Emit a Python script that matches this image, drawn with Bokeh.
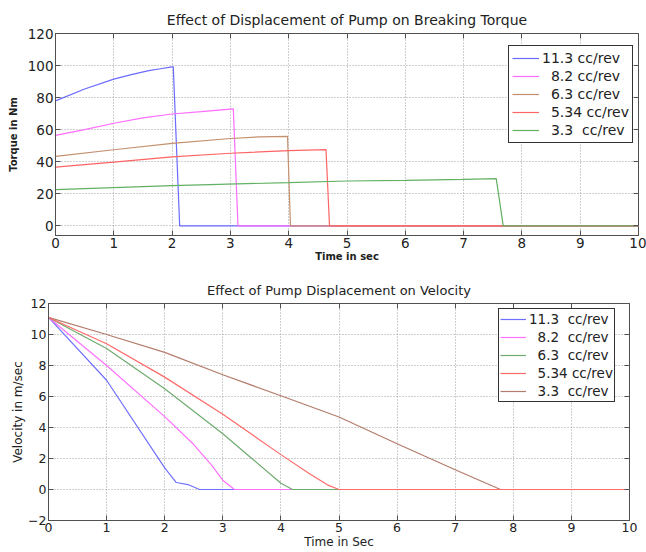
from bokeh.plotting import figure
from bokeh.models import Legend, LegendItem, FixedTicker, Range1d, LinearAxis, CustomJSTickFormatter
from bokeh.embed import file_html
from bokeh.resources import INLINE

# ---------------- data: torque (top) ----------------
tq_t_113 = [0, 0.5, 1.0, 1.3, 1.6, 1.8, 2.0, 2.02, 2.13, 10]
tq_v_113 = [78, 85.4, 91.5, 94.3, 96.8, 98, 99.2, 99.2, 0, 0]
tq_t_82 = [0, 0.5, 1.0, 1.5, 2.0, 2.5, 3.05, 3.13, 10]
tq_v_82 = [56.4, 60, 64, 67.4, 69.8, 71.3, 73, 0, 0]
tq_t_63 = [0, 1, 2, 3, 3.5, 3.98, 4.03, 10]
tq_v_63 = [43.3, 47.5, 51.5, 54.5, 55.5, 55.8, 0, 0]
tq_t_534 = [0, 1, 2, 3, 4, 4.64, 4.70, 10]
tq_v_534 = [36.7, 39.8, 43, 45.3, 47, 47.6, 0, 0]
tq_t_33 = [0, 2, 4, 5, 6, 7, 7.56, 7.68, 10]
tq_v_33 = [22.6, 25.1, 27.0, 28.0, 28.4, 29.0, 29.5, 0, 0]

tq_labels = ["11.3 cc/rev", "\u00a0\u00a08.2 cc/rev", "\u00a0\u00a06.3 cc/rev",
             "\u00a0\u00a05.34 cc/rev", "\u00a0\u00a03.3\u00a0\u00a0cc/rev"]
tq_colors = ["#6a6aff", "#ff6cff", "#c4906e", "#ff6464", "#62b062"]

# ---------------- data: velocity (bottom) ----------------
vl_t_113 = [0, 1, 2, 2.2, 2.4, 2.6, 10]
vl_v_113 = [11.1, 7.05, 1.4, 0.45, 0.32, 0, 0]
vl_t_82 = [0, 1, 2, 2.5, 2.8, 3.0, 3.2, 10]
vl_v_82 = [11.1, 8.0, 4.7, 2.9, 1.6, 0.6, 0, 0]
vl_t_63 = [0, 1, 2, 3, 3.5, 4.0, 4.2, 10]
vl_v_63 = [11.1, 9.1, 6.5, 3.6, 2.0, 0.4, 0, 0]
vl_t_534 = [0, 1, 2, 3, 4, 4.5, 4.8, 5.0, 10]
vl_v_534 = [11.1, 9.4, 7.25, 4.85, 2.25, 1.0, 0.3, 0, 0]
vl_t_33 = [0, 1, 2, 3, 4, 5, 6, 7, 7.78, 10]
vl_v_33 = [11.1, 10.0, 8.85, 7.4, 6.05, 4.68, 2.95, 1.27, 0, 0]

vl_labels = ["11.3\u00a0\u00a0cc/rev", "\u00a0\u00a08.2\u00a0\u00a0cc/rev", "\u00a0\u00a06.3\u00a0\u00a0cc/rev",
             "\u00a0\u00a05.34 cc/rev", "\u00a0\u00a03.3\u00a0\u00a0cc/rev"]
vl_colors = ["#7070ff", "#ff70ff", "#70aa70", "#ff6a6a", "#b47c6c"]

x_ticks = list(range(0, 11))
tq_y_ticks = [0, 20, 40, 60, 80, 100, 120]
vl_y_ticks = [-2, 0, 2, 4, 6, 8, 10, 12]

FONT = "DejaVu Sans"
TXT = "#222222"
AX = "#505050"


def mirror_axis(ticks):
    return LinearAxis(ticker=FixedTicker(ticks=ticks),
                      formatter=CustomJSTickFormatter(code="return ''"),
                      major_label_standoff=0, major_label_text_font_size="1px",
                      major_tick_in=5, major_tick_out=0, major_tick_line_color=AX,
                      minor_tick_line_color=None, axis_line_color=None)


def style(p, tick_size, ylab_size, ylab_style, xlab_size, xlab_style, yticks):
    p.title.text_font = FONT
    p.title.text_font_style = "normal"
    p.title.text_color = TXT
    p.title.align = "center"
    p.outline_line_color = AX
    p.outline_line_width = 1
    for ax in (p.xaxis[0], p.yaxis[0]):
        ax.major_label_text_font = FONT
        ax.major_label_text_font_size = tick_size
        ax.major_label_text_color = TXT
        ax.axis_label_text_font = FONT
        ax.axis_label_text_color = TXT
        ax.axis_line_color = AX
        ax.major_tick_line_color = AX
        ax.major_tick_in = 5
        ax.major_tick_out = 0
        ax.minor_tick_line_color = None
        ax.major_label_standoff = 2
    p.xaxis[0].ticker = FixedTicker(ticks=x_ticks)
    p.yaxis[0].ticker = FixedTicker(ticks=yticks)
    p.xaxis[0].axis_label_text_font_size = xlab_size
    p.xaxis[0].axis_label_text_font_style = xlab_style
    p.yaxis[0].axis_label_text_font_size = ylab_size
    p.yaxis[0].axis_label_text_font_style = ylab_style
    p.xaxis[0].axis_label_standoff = 0
    p.grid.grid_line_color = "#a0a0a0"
    p.grid.grid_line_dash = "1 2"
    p.grid.grid_line_width = 1
    p.add_layout(mirror_axis(yticks), "right")
    p.add_layout(mirror_axis(x_ticks), "above")


# ---------------- top figure ----------------
p1 = figure(width=646, height=266, x_range=Range1d(0, 10), y_range=Range1d(-6, 120),
            output_backend="svg", toolbar_location=None,
            min_border_left=55, min_border_right=8, min_border_top=33, min_border_bottom=31,
            title="Effect of Displacement of Pump on Breaking Torque")
p1.title.text_font_size = "14px"
p1.title.standoff = 11
p1.xaxis.axis_label = "Time in sec"
p1.yaxis.axis_label = "Torque in Nm"
style(p1, "13.5px", "10px", "bold", "10px", "bold", tq_y_ticks)
p1.yaxis[0].axis_label_standoff = 6

tq_series = [(tq_t_113, tq_v_113), (tq_t_82, tq_v_82), (tq_t_63, tq_v_63),
             (tq_t_534, tq_v_534), (tq_t_33, tq_v_33)]
items1 = []
for (t, v), c, lab in zip(tq_series, tq_colors, tq_labels):
    r = p1.line(t, v, line_color=c, line_width=1.2)
    items1.append(LegendItem(label=lab, renderers=[r]))

leg1 = Legend(items=items1, location=(453, 92), margin=0, padding=3, spacing=0,
              label_text_font=FONT, label_text_font_size="14px", label_text_color=TXT,
              label_height=18, glyph_height=18, glyph_width=27, label_standoff=3,
              border_line_color="#333333", border_line_width=1, border_line_alpha=1,
              background_fill_color="white", background_fill_alpha=1)
p1.add_layout(leg1)

# ---------------- bottom figure ----------------
p2 = figure(width=646, height=286, x_range=Range1d(0, 10), y_range=Range1d(-2, 12),
            output_backend="svg", toolbar_location=None,
            min_border_left=48, min_border_right=17, min_border_top=37, min_border_bottom=32,
            title="Effect of Pump Displacement on Velocity")
p2.title.text_font_size = "13px"
p2.title.standoff = 11
p2.xaxis.axis_label = "Time in Sec"
p2.yaxis.axis_label = "Velocity in m/sec"
style(p2, "12.5px", "12px", "normal", "12px", "normal", vl_y_ticks)
p2.yaxis[0].axis_label_standoff = 0

vl_series = [(vl_t_113, vl_v_113), (vl_t_82, vl_v_82), (vl_t_63, vl_v_63),
             (vl_t_534, vl_v_534), (vl_t_33, vl_v_33)]
draw_order = [0, 1, 2, 4, 3]
rmap = {}
for i in draw_order:
    t, v = vl_series[i]
    rmap[i] = p2.line(t, v, line_color=vl_colors[i], line_width=1.2)
items2 = [LegendItem(label=vl_labels[i], renderers=[rmap[i]]) for i in range(5)]
leg2 = Legend(items=items2, location=(450, 118), margin=0, padding=1, spacing=0,
              label_text_font=FONT, label_text_font_size="13.5px", label_text_color=TXT,
              label_height=18, glyph_height=18, glyph_width=26, label_standoff=3,
              border_line_color="#333333", border_line_width=1, border_line_alpha=1,
              background_fill_color="white", background_fill_alpha=1)
p2.add_layout(leg2)

open("out.html", "w").write(file_html((p1, p2), INLINE))
